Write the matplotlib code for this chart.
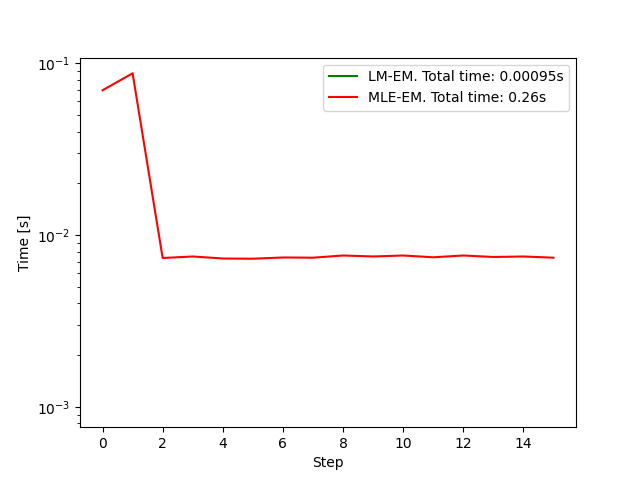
import matplotlib
matplotlib.use("Agg")
import matplotlib.pyplot as plt

steps = list(range(16))
lm_em = [0.00006] * 16
mle_em = [0.0697, 0.0875, 0.00735, 0.0075, 0.0073, 0.00728, 0.0074, 0.00738,
          0.0076, 0.0075, 0.0076, 0.00742, 0.0076, 0.00745, 0.0075, 0.00738]

fig, ax = plt.subplots(figsize=(6.4, 4.8), dpi=100)
ax.plot(steps, lm_em, color="green", label="LM-EM. Total time: 0.00095s")
ax.plot(steps, mle_em, color="red", label="MLE-EM. Total time: 0.26s")
ax.set_yscale("log")
ax.set_ylim(7.6e-4, 0.108)
ax.set_xlabel("Step")
ax.set_ylabel("Time [s]")
ax.legend()
fig.savefig("out.png")
